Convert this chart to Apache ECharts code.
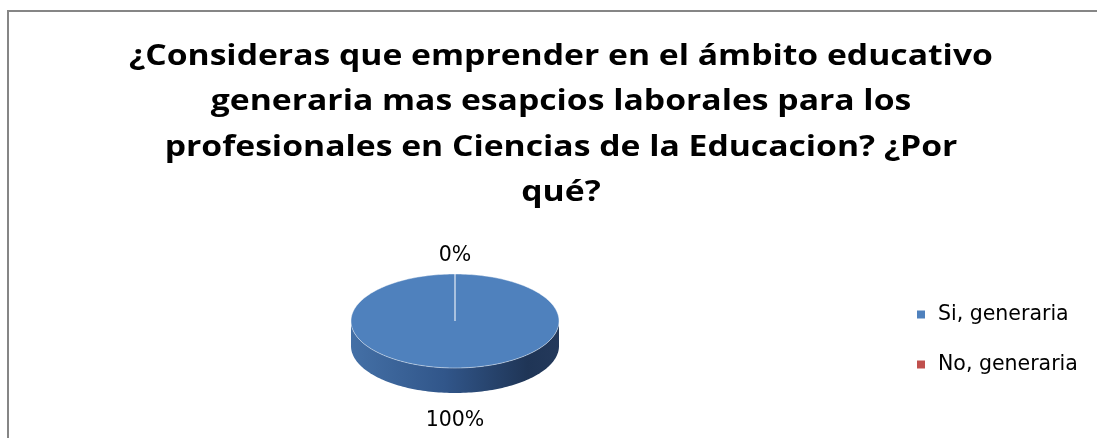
<!DOCTYPE html>
<html>
<head>
<meta charset="utf-8">
<script src="https://cdn.jsdelivr.net/npm/echarts@6/dist/echarts.min.js"></script>
<style>
html,body{margin:0;padding:0;background:#fff;}
#chart{width:1097px;height:438px;}
</style>
</head>
<body>
<div id="chart"></div>
<script>
const titleLines = [
  '¿Consideras que emprender en el ámbito educativo',
  'generaria mas esapcios laborales para los',
  'profesionales en Ciencias de la Educacion? ¿Por',
  'qué?'
];
const categories = ['Si, generaria', 'No, generaria'];
const values = [100, 0];
const percentLabels = ['100%', '0%'];

const TITLE_FONT = 'Open Sans';
const FONT = 'DejaVu Sans';
const topColors = ['#4F81BD', '#C0504D'];
const sideStops = [
  [['#4470a6', 0], ['#31568a', 0.45], ['#1f3556', 0.85], ['#24395b', 1]],
  [['#a84542', 0], ['#8a3532', 0.5], ['#5e2221', 1]]
];
const PIE = { cx: 455, cy: 321, rx: 104, ry: 47, depth: 25 };

function ellPt(t, dy) {
  return [PIE.cx + PIE.rx * Math.sin(t), PIE.cy - PIE.ry * Math.cos(t) + (dy || 0)];
}
function arcPts(a, b, dy) {
  const n = Math.max(2, Math.ceil(Math.abs(b - a) / (2 * Math.PI) * 240));
  const pts = [];
  for (let k = 0; k <= n; k++) pts.push(ellPt(a + (b - a) * k / n, dy));
  return pts;
}
function toPath(pts) {
  return pts.map((p, k) => (k ? 'L' : 'M') + p[0].toFixed(2) + ' ' + p[1].toFixed(2)).join(' ');
}

function makeRender(i) {
  return function (params, api) {
    const total = values.reduce((s, v) => s + v, 0);
    const before = values.slice(0, i).reduce((s, v) => s + v, 0);
    const v = api.value(0);
    const start = before / total * 2 * Math.PI;
    const end = start + v / total * 2 * Math.PI;
    const children = [];
    const a = Math.max(start, Math.PI / 2), b = Math.min(end, 3 * Math.PI / 2);
    if (b > a) {
      const top = arcPts(a, b, 0);
      const bot = arcPts(b, a, PIE.depth);
      children.push({
        type: 'path', z2: 1,
        shape: { pathData: toPath(top.concat(bot)) + ' Z' },
        style: {
          fill: {
            type: 'linear', x: 0, y: 0, x2: 1, y2: 0,
            colorStops: sideStops[i].map(s => ({ offset: s[1], color: s[0] }))
          },
          stroke: null
        }
      });
    }
    if (end > start) {
      const pts = [[PIE.cx, PIE.cy]].concat(arcPts(start, end, 0));
      children.push({
        type: 'path', z2: 10,
        shape: { pathData: toPath(pts) + ' Z' },
        style: { fill: topColors[i], stroke: 'rgba(255,255,255,0.55)', lineWidth: 0.8 }
      });
    } else {
      const p = ellPt(start, 0);
      children.push({
        type: 'line', z2: 11,
        shape: { x1: PIE.cx, y1: PIE.cy, x2: p[0], y2: p[1] },
        style: { stroke: 'rgba(255,255,255,0.55)', lineWidth: 0.8 }
      });
    }
    const mid = (start + end) / 2;
    const c = Math.cos(mid);
    const extra = c < 0 ? -c * (PIE.depth + 10) : 0;
    const lx = PIE.cx + (PIE.rx + 18) * Math.sin(mid);
    const ly = PIE.cy - (PIE.ry + 18) * c + extra;
    children.push({
      type: 'text', z2: 20,
      x: lx, y: ly,
      style: {
        text: percentLabels[i], fill: '#000', fontSize: 20.5, fontFamily: FONT,
        align: 'center', verticalAlign: 'middle'
      }
    });
    return { type: 'group', children: children };
  };
}

const chart = echarts.init(document.getElementById('chart'), null, { renderer: 'canvas' });
chart.setOption({
  backgroundColor: '#fff',
  animation: false,
  color: topColors,
  legend: {
    orient: 'vertical',
    left: 917,
    top: 304,
    padding: 0,
    itemWidth: 8,
    itemHeight: 8,
    itemGap: 29,
    icon: 'rect',
    data: categories,
    textStyle: { fontFamily: FONT, fontSize: 20.5, lineHeight: 20, color: '#000', padding: [0, 0, 0, 8] }
  },
  graphic: [{
    type: 'rect', silent: true,
    shape: { x: 8, y: 11, width: 1200, height: 600 },
    style: { fill: null, stroke: '#868686', lineWidth: 2 }
  }, {
    type: 'text', silent: true,
    x: 561, y: 34.25,
    scaleX: 1.203,
    style: {
      text: titleLines.join('\n'),
      fontFamily: TITLE_FONT, fontWeight: 'bold', fontSize: 28, lineHeight: 45.5,
      fill: '#000', align: 'center', verticalAlign: 'top'
    }
  }],
  series: categories.map((name, i) => ({
    type: 'custom',
    name: name,
    coordinateSystem: 'none',
    renderItem: makeRender(i),
    data: [[values[i]]],
    itemStyle: { color: topColors[i] }
  }))
});
</script>
</body>
</html>
